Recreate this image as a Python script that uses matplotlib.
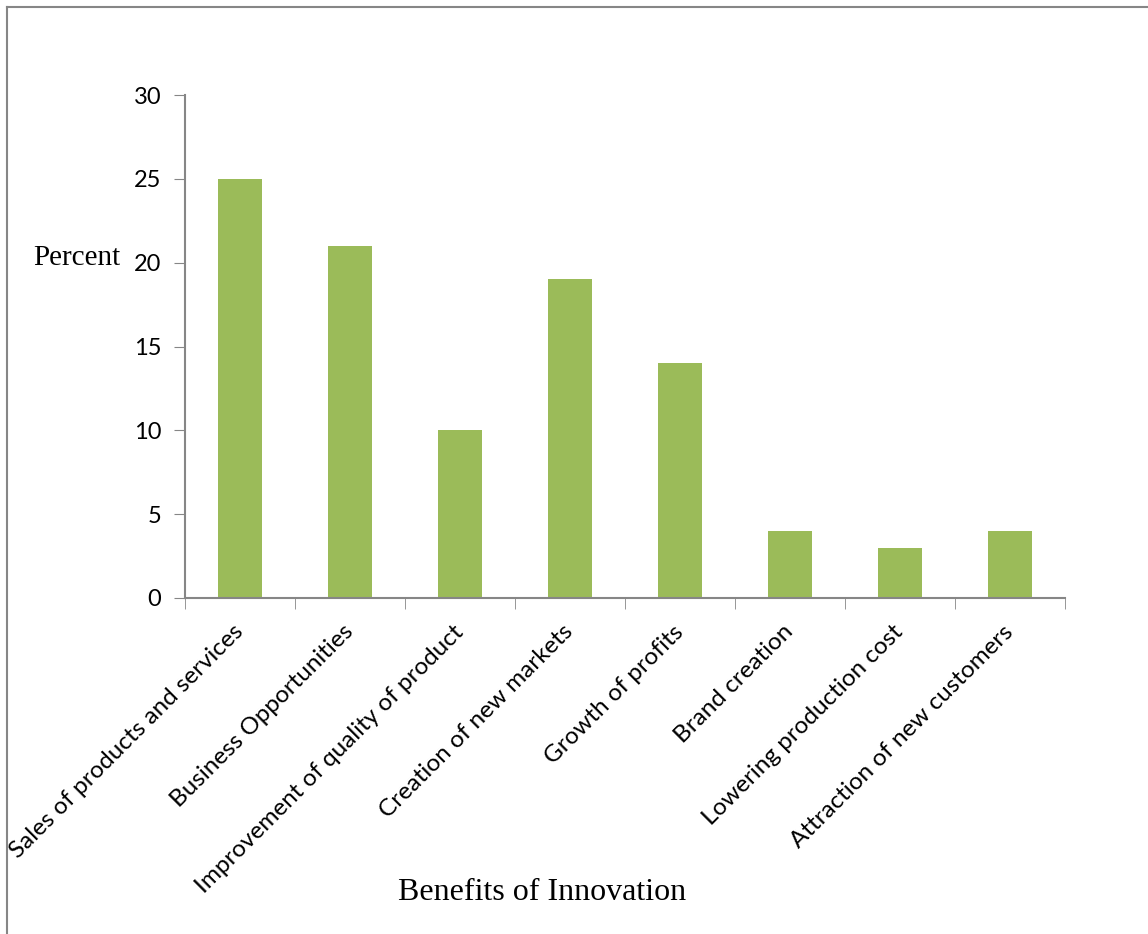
import matplotlib.pyplot as plt
import numpy as np
from matplotlib.lines import Line2D

categories = ["Sales of products and services", "Business Opportunities",
              "Improvement of quality of product", "Creation of new markets",
              "Growth of profits", "Brand creation", "Lowering production cost",
              "Attraction of new customers"]
percent = [25, 21, 10, 19, 14, 4, 3, 4]
yticks = [0, 5, 10, 15, 20, 25, 30]

fig = plt.figure(figsize=(11.48, 9.34), dpi=100)
ax = fig.add_axes([185 / 1148, 1 - 598 / 934, 880 / 1148, 503 / 934])

x = np.arange(len(categories))
ax.bar(x, percent, width=0.4, color="#9BBB59")

ax.set_xlim(-0.5, len(categories) - 0.5)
ax.set_ylim(0, 30)
ax.set_yticks(yticks)
ax.set_yticklabels([str(v) for v in yticks], fontsize=17, family="Lato")

# category labels at bar centers, ticks at category boundaries
ax.set_xticks(x)
ax.set_xticklabels(categories, rotation=45, ha="right", va="center",
                   rotation_mode="anchor", fontsize=17.5, family="Lato")
ax.tick_params(axis="x", which="major", length=0, pad=22)
ax.set_xticks(np.arange(len(categories) + 1) - 0.5, minor=True)
ax.tick_params(axis="x", which="minor", length=8, color="#868686", direction="out")
ax.tick_params(axis="y", length=8, color="#868686", direction="out", pad=9)

for side in ["top", "right"]:
    ax.spines[side].set_visible(False)
for side in ["left", "bottom"]:
    ax.spines[side].set_color("#868686")
    ax.spines[side].set_linewidth(1.5)

fig.text(33 / 1148, 1 - 258 / 934, "Percent", family="Liberation Serif",
         fontsize=21, va="center", ha="left")
fig.text(542 / 1148, 1 - 893 / 934, "Benefits of Innovation", family="Liberation Serif",
         fontsize=23, va="center", ha="center")

# chart area border (top and left visible)
fig.add_artist(Line2D([7 / 1148, 7 / 1148], [0, 1 - 7 / 934], transform=fig.transFigure,
                      color="#868686", lw=1.5))
fig.add_artist(Line2D([7 / 1148, 1], [1 - 7 / 934, 1 - 7 / 934], transform=fig.transFigure,
                      color="#868686", lw=1.5))

fig.savefig("out.png", dpi=100)
